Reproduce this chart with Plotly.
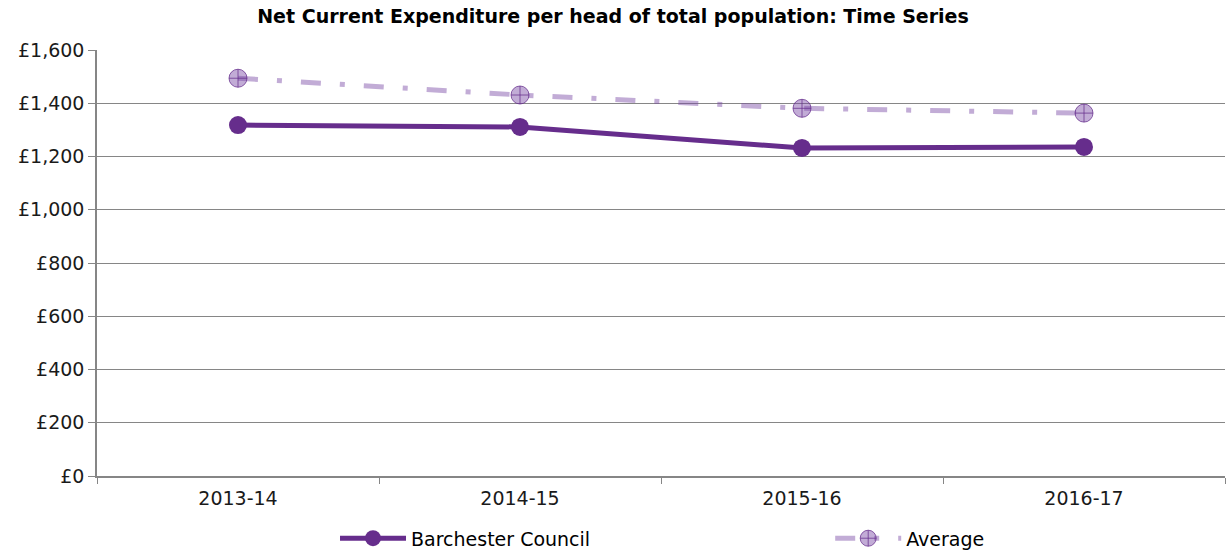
import plotly.graph_objects as go

# Financial years on the x axis
years = ["2013-14", "2014-15", "2015-16", "2016-17"]

# Net current expenditure per head (£)
barchester = [1318, 1311, 1232, 1236]
average = [1494, 1431, 1381, 1363]

y_ticks = [0, 200, 400, 600, 800, 1000, 1200, 1400, 1600]
y_labels = ["£0", "£200", "£400", "£600", "£800", "£1,000", "£1,200", "£1,400", "£1,600"]

PURPLE = "#662d8c"
FONT = "DejaVu Sans, Verdana, sans-serif"
GRID = "#868686"

fig = go.Figure()

fig.add_trace(go.Scatter(
    x=years, y=average, name="Average", mode="lines+markers", legend="legend2",
    line=dict(color="rgba(120,70,165,0.45)", width=5, dash="20px,19px,5px,19px"),
    marker=dict(symbol="circle-cross", size=18, color="rgba(120,70,165,0.45)",
                line=dict(color="rgba(102,45,140,0.75)", width=1)),
))

fig.add_trace(go.Scatter(
    x=years, y=barchester, name="Barchester Council", mode="lines+markers", legend="legend",
    line=dict(color=PURPLE, width=5),
    marker=dict(symbol="circle", size=18, color=PURPLE),
))

legend_style = dict(orientation="h", xanchor="left", y=-0.191, yanchor="bottom",
                    itemwidth=66, font=dict(family=FONT, size=19, color="#000000"),
                    bgcolor="rgba(0,0,0,0)")

fig.update_layout(
    width=1226, height=558,
    margin=dict(l=97, r=1, t=50, b=82),
    paper_bgcolor="white", plot_bgcolor="white",
    font=dict(family=FONT, size=19, color="#1a1a1a"),
    title=dict(text="<b>Net Current Expenditure per head of total population: Time Series</b>",
               x=0.5, xanchor="center", y=0.97, yanchor="middle",
               font=dict(family=FONT, size=19, color="#000000")),
    showlegend=True,
    legend=dict(x=0.211, **legend_style),
    legend2=dict(x=0.65, **legend_style),
    xaxis=dict(
        type="category", tickson="boundaries", ticks="outside", ticklen=6,
        tickcolor=GRID, showline=True, linecolor=GRID, linewidth=1.5,
        showgrid=False, tickfont=dict(family=FONT, size=19, color="#1a1a1a"),
        ticklabelstandoff=4, range=[-0.5, 3.5],
    ),
    yaxis=dict(
        range=[0, 1600], tickvals=y_ticks, ticktext=y_labels,
        ticks="outside", ticklen=7, tickcolor=GRID,
        showline=True, linecolor=GRID, linewidth=1.5,
        showgrid=True, gridcolor=GRID, gridwidth=1, zeroline=False,
        tickfont=dict(family=FONT, size=19, color="#1a1a1a"),
    ),
)

fig.write_html("out.html")
